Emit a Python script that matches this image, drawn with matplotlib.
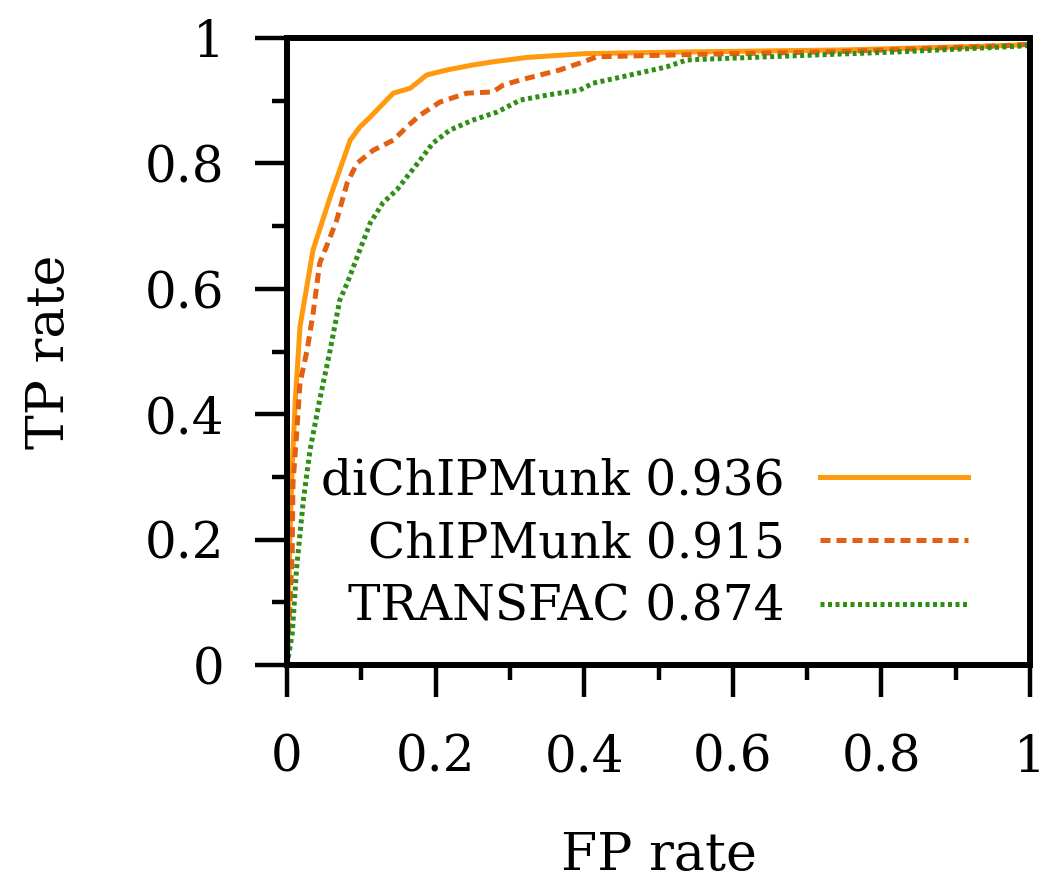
import matplotlib
matplotlib.use("Agg")
import matplotlib.pyplot as plt
from matplotlib.ticker import MultipleLocator

# ROC curves (FP rate, TP rate)
dichipmunk_fp = [0.0, 0.001, 0.004, 0.007, 0.011, 0.0175, 0.035, 0.058, 0.085, 0.098,
                 0.112, 0.143, 0.166, 0.188, 0.215, 0.25, 0.277, 0.323, 0.40, 0.55,
                 0.75, 0.97, 1.0]
dichipmunk_tp = [0.0, 0.05, 0.21, 0.316, 0.42, 0.54, 0.662, 0.746, 0.837, 0.858,
                 0.874, 0.912, 0.920, 0.941, 0.949, 0.957, 0.962, 0.969, 0.975, 0.978,
                 0.981, 0.988, 0.99]

chipmunk_fp = [0.0, 0.004, 0.007, 0.008, 0.013, 0.0175, 0.027, 0.035, 0.044, 0.055,
               0.067, 0.081, 0.094, 0.116, 0.143, 0.161, 0.179, 0.206, 0.242, 0.277,
               0.291, 0.314, 0.367, 0.394, 0.417, 0.556, 0.735, 0.97, 1.0]
chipmunk_tp = [0.0, 0.10, 0.18, 0.29, 0.37, 0.45, 0.502, 0.56, 0.641, 0.673,
               0.710, 0.769, 0.80, 0.821, 0.837, 0.858, 0.877, 0.898, 0.912, 0.914,
               0.925, 0.933, 0.949, 0.960, 0.970, 0.974, 0.978, 0.988, 0.99]

transfac_fp = [0.0, 0.007, 0.013, 0.022, 0.031, 0.044, 0.058, 0.071, 0.081, 0.098,
               0.112, 0.129, 0.148, 0.161, 0.179, 0.196, 0.219, 0.25, 0.283, 0.314,
               0.35, 0.394, 0.412, 0.462, 0.511, 0.538, 0.646, 0.825, 0.97, 1.0]
transfac_tp = [0.0, 0.05, 0.156, 0.263, 0.343, 0.423, 0.502, 0.582, 0.609, 0.662,
               0.705, 0.737, 0.758, 0.778, 0.805, 0.832, 0.853, 0.869, 0.882, 0.901,
               0.909, 0.917, 0.928, 0.941, 0.954, 0.965, 0.970, 0.978, 0.986, 0.988]

labels = ["diChIPMunk 0.936", "ChIPMunk 0.915", "TRANSFAC 0.874"]
colors = ["#ff9a0f", "#e2600f", "#2e8f14"]

plt.rcParams["font.family"] = ["DejaVu Serif"]
plt.rcParams["font.size"] = 35

fig = plt.figure(figsize=(10.56, 8.88), dpi=100)
ax = fig.add_axes([0.2718, 0.2511, 0.7036, 0.7061])

ax.plot(dichipmunk_fp, dichipmunk_tp, color=colors[0], lw=3.6, label=labels[0])
ax.plot(chipmunk_fp, chipmunk_tp, color=colors[1], lw=3.6, dashes=(2, 1.2), label=labels[1])
ax.plot(transfac_fp, transfac_tp, color=colors[2], lw=3.6, dashes=(0.8, 0.7), label=labels[2])

ax.set_xlim(0, 1)
ax.set_ylim(0, 1)
ax.xaxis.set_major_locator(MultipleLocator(0.2))
ax.xaxis.set_minor_locator(MultipleLocator(0.1))
ax.yaxis.set_major_locator(MultipleLocator(0.2))
ax.yaxis.set_minor_locator(MultipleLocator(0.1))
ax.xaxis.set_major_formatter(lambda v, p: f"{v:g}")
ax.yaxis.set_major_formatter(lambda v, p: f"{v:g}")

for s in ax.spines.values():
    s.set_linewidth(4.3)
ax.tick_params(which="both", direction="out", top=False, right=False, width=3.2)
ax.tick_params(which="major", length=23, labelsize=36)
ax.tick_params(which="minor", length=11)
ax.tick_params(axis="x", which="major", pad=26)
ax.tick_params(axis="y", which="major", pad=22)

ax.set_xlabel("FP rate", fontsize=37.5, labelpad=34)
ax.set_ylabel("TP rate", fontsize=37.5, labelpad=50)

ax.legend(loc="lower right", bbox_to_anchor=(0.917, 0.055), frameon=False,
          markerfirst=False, handlelength=3.05, handletextpad=0.72,
          labelspacing=0.33, borderpad=0, borderaxespad=0)

fig.savefig("out.png", dpi=100)
